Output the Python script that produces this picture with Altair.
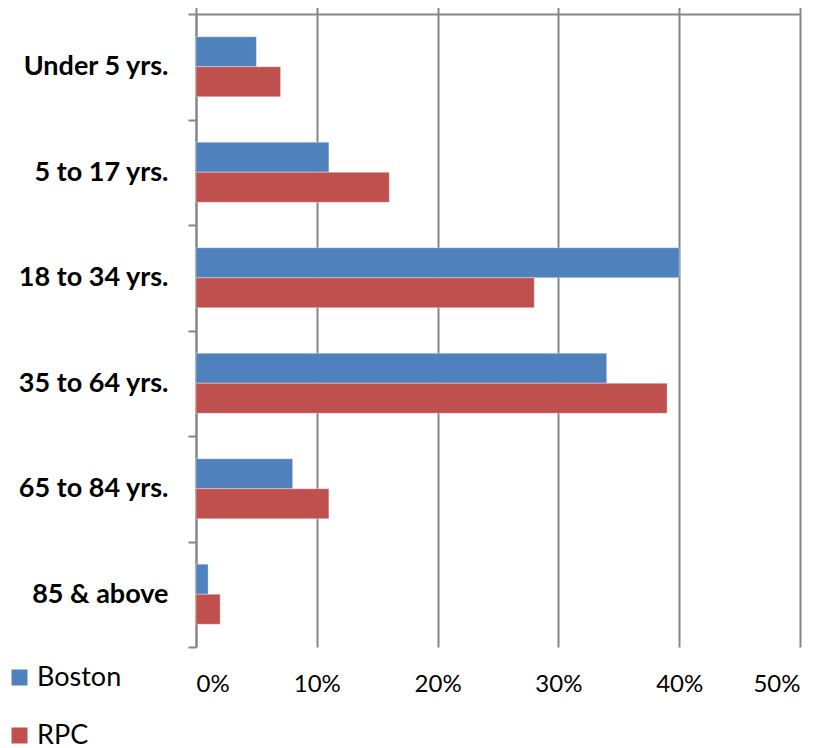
import altair as alt
import pandas as pd

categories = ["Under 5 yrs.", "5 to 17 yrs.", "18 to 34 yrs.", "35 to 64 yrs.", "65 to 84 yrs.", "85 & above"]
series = ["Boston", "RPC"]
boston = [5, 11, 40, 34, 8, 1]
rpc = [7, 16, 28, 39, 11, 2]
x_ticks = [0, 10, 20, 30, 40, 50]
colors = ["#4F81BD", "#C0504D"]

rows = []
for c, b, r in zip(categories, boston, rpc):
    rows.append({"cat": c, "series": "Boston", "value": b / 100})
    rows.append({"cat": c, "series": "RPC", "value": r / 100})
df = pd.DataFrame(rows)

tick_vals = [t / 100 for t in x_ticks]
xscale = alt.Scale(domain=[0, 0.5], nice=False)
GRAY = "#868686"
FONT = "Lato"

bars = alt.Chart(df).mark_bar(strokeWidth=1, strokeOpacity=0.35, stroke="white").encode(
    x=alt.X("value:Q", scale=xscale,
            axis=alt.Axis(orient="top", values=tick_vals, labels=False, title=None,
                          grid=True, gridColor=GRAY, gridWidth=2,
                          domain=True, domainColor=GRAY, domainWidth=2,
                          ticks=True, tickSize=8, tickColor=GRAY, tickWidth=2)),
    y=alt.Y("cat:N", sort=categories,
            scale=alt.Scale(paddingInner=0, paddingOuter=0),
            axis=alt.Axis(title=None, tickBand="extent", grid=False,
                          domain=True, domainColor=GRAY, domainWidth=2,
                          ticks=True, tickSize=8, tickColor=GRAY, tickWidth=2,
                          labelFont=FONT, labelFontWeight="bold", labelFontSize=27,
                          labelColor="black", labelPadding=20, labelLimit=300)),
    yOffset=alt.YOffset("series:N", sort=series,
                        scale=alt.Scale(paddingInner=0, paddingOuter=0.758)),
    color=alt.Color("series:N", sort=series,
                    scale=alt.Scale(domain=series, range=colors),
                    legend=alt.Legend(title=None, orient="none", legendX=-190, legendY=650,
                                      symbolType="square", symbolSize=256, symbolStrokeWidth=0,
                                      labelFont=FONT, labelFontSize=27, labelColor="black",
                                      rowPadding=30, labelOffset=4, padding=0)),
)

bottom = alt.Chart(df).mark_point(opacity=0).encode(
    x=alt.X("value:Q", scale=xscale,
            axis=alt.Axis(orient="bottom", values=tick_vals, format=".0%", title=None,
                          grid=False, domain=False, ticks=False, tickSize=0,
                          labelFont=FONT, labelFontSize=24, labelColor="black",
                          labelPadding=25)),
)

chart = alt.layer(bars, bottom).properties(
    width=604, height=633,
    autosize=alt.AutoSizeParams(type="none"),
    padding={"left": 188, "top": 6, "right": 18, "bottom": 101},
).configure_view(stroke=None)

chart.save("out.html", embed_options={"renderer": "svg", "actions": False})
